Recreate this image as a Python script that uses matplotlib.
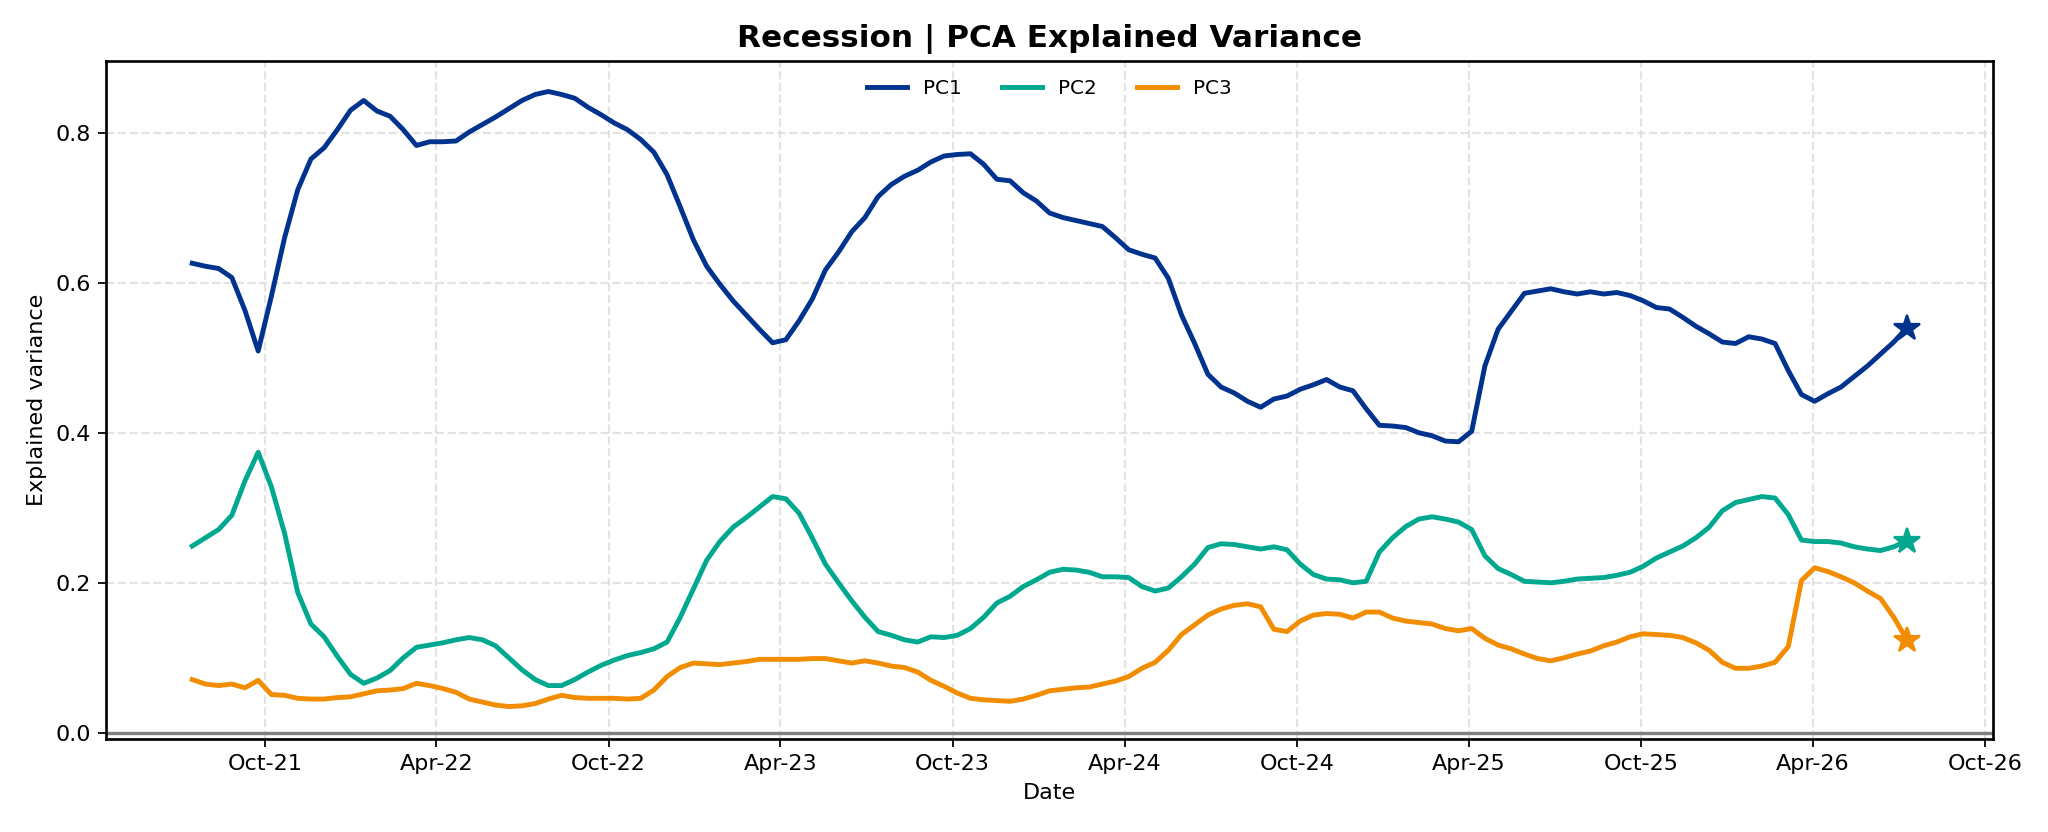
import numpy as np
import pandas as pd
import matplotlib
matplotlib.use("Agg")
import matplotlib.pyplot as plt
import matplotlib.dates as mdates

# biweekly observation dates
dates = pd.date_range("2021-07-16", periods=131, freq="14D")

pc1 = [0.626, 0.622, 0.619, 0.607, 0.563, 0.509, 0.582, 0.660, 0.724, 0.765,
       0.780, 0.804, 0.830, 0.843, 0.829, 0.822, 0.804, 0.783, 0.788, 0.788,
       0.789, 0.801, 0.811, 0.821, 0.832, 0.843, 0.851, 0.855, 0.851, 0.846,
       0.834, 0.824, 0.813, 0.804, 0.791, 0.774, 0.744, 0.701, 0.657, 0.622,
       0.598, 0.576, 0.557, 0.538, 0.520, 0.524, 0.549, 0.578, 0.617, 0.641,
       0.668, 0.687, 0.715, 0.731, 0.742, 0.750, 0.761, 0.769, 0.771, 0.772,
       0.758, 0.738, 0.736, 0.720, 0.709, 0.693, 0.687, 0.683, 0.679, 0.675,
       0.660, 0.644, 0.638, 0.633, 0.606, 0.557, 0.519, 0.478, 0.461, 0.453,
       0.442, 0.434, 0.445, 0.449, 0.458, 0.464, 0.471, 0.461, 0.456, 0.432,
       0.410, 0.409, 0.407, 0.400, 0.396, 0.389, 0.388, 0.402, 0.489, 0.538,
       0.562, 0.586, 0.589, 0.592, 0.588, 0.585, 0.588, 0.585, 0.587, 0.583,
       0.576, 0.567, 0.565, 0.554, 0.542, 0.532, 0.521, 0.519, 0.528, 0.525,
       0.519, 0.483, 0.451, 0.442, 0.452, 0.461, 0.475, 0.489, 0.505, 0.521,
       0.540]

pc2 = [0.249, 0.260, 0.271, 0.290, 0.336, 0.374, 0.328, 0.266, 0.187, 0.145,
       0.128, 0.102, 0.078, 0.066, 0.073, 0.083, 0.100, 0.114, 0.117, 0.120,
       0.124, 0.127, 0.124, 0.116, 0.100, 0.084, 0.071, 0.063, 0.063, 0.071,
       0.081, 0.090, 0.097, 0.103, 0.107, 0.112, 0.121, 0.154, 0.192, 0.230,
       0.255, 0.274, 0.287, 0.301, 0.315, 0.312, 0.293, 0.260, 0.225, 0.200,
       0.176, 0.154, 0.135, 0.130, 0.124, 0.121, 0.128, 0.127, 0.130, 0.139,
       0.154, 0.173, 0.182, 0.195, 0.204, 0.214, 0.218, 0.217, 0.214, 0.208,
       0.208, 0.207, 0.195, 0.189, 0.193, 0.208, 0.225, 0.247, 0.252, 0.251,
       0.248, 0.245, 0.248, 0.244, 0.225, 0.211, 0.205, 0.204, 0.200, 0.202,
       0.241, 0.260, 0.275, 0.285, 0.288, 0.285, 0.281, 0.271, 0.236, 0.219,
       0.211, 0.202, 0.201, 0.200, 0.202, 0.205, 0.206, 0.207, 0.210, 0.214,
       0.222, 0.233, 0.241, 0.249, 0.260, 0.274, 0.296, 0.307, 0.311, 0.315,
       0.313, 0.291, 0.257, 0.255, 0.255, 0.253, 0.248, 0.245, 0.243, 0.248,
       0.256]

pc3 = [0.071, 0.065, 0.063, 0.065, 0.060, 0.070, 0.051, 0.050, 0.046, 0.045,
       0.045, 0.047, 0.048, 0.052, 0.056, 0.057, 0.059, 0.066, 0.063, 0.059,
       0.054, 0.045, 0.041, 0.037, 0.035, 0.036, 0.039, 0.045, 0.050, 0.047,
       0.046, 0.046, 0.046, 0.045, 0.046, 0.057, 0.075, 0.087, 0.093, 0.092,
       0.091, 0.093, 0.095, 0.098, 0.098, 0.098, 0.098, 0.099, 0.099, 0.096,
       0.093, 0.096, 0.093, 0.089, 0.087, 0.081, 0.070, 0.062, 0.053, 0.046,
       0.044, 0.043, 0.042, 0.045, 0.050, 0.056, 0.058, 0.060, 0.061, 0.065,
       0.069, 0.075, 0.086, 0.094, 0.110, 0.131, 0.144, 0.157, 0.165, 0.170,
       0.172, 0.168, 0.138, 0.135, 0.149, 0.157, 0.159, 0.158, 0.153, 0.161,
       0.161, 0.153, 0.149, 0.147, 0.145, 0.139, 0.136, 0.139, 0.126, 0.117,
       0.112, 0.105, 0.099, 0.096, 0.100, 0.105, 0.109, 0.116, 0.121, 0.128,
       0.132, 0.131, 0.130, 0.127, 0.120, 0.110, 0.094, 0.086, 0.086, 0.089,
       0.094, 0.115, 0.203, 0.220, 0.215, 0.208, 0.200, 0.189, 0.179, 0.154,
       0.124]

series = {"PC1": pc1, "PC2": pc2, "PC3": pc3}
colors = {"PC1": "#00338D", "PC2": "#00A88F", "PC3": "#F28C00"}

fig, ax = plt.subplots(figsize=(12.8, 5.2), dpi=160)

for name, vals in series.items():
    ax.plot(dates, vals, color=colors[name], lw=2.2, label=name)
    ax.plot(dates[-1], vals[-1], marker="*", ms=12, color=colors[name])

ax.axhline(0, color="gray", lw=1.5)

ax.set_ylim(-0.008, 0.896)
ax.set_yticks([0.0, 0.2, 0.4, 0.6, 0.8])
ax.xaxis.set_major_locator(mdates.MonthLocator(bymonth=[4, 10]))
ax.xaxis.set_major_formatter(mdates.DateFormatter("%b-%y"))

ax.grid(True, linestyle="--", color="#dddddd", lw=1.0, alpha=0.8)
ax.set_axisbelow(True)

ax.set_title("Recession | PCA Explained Variance", fontsize=14, fontweight="bold")
ax.set_xlabel("Date")
ax.set_ylabel("Explained variance")
ax.legend(loc="upper center", ncol=3, frameon=False, fontsize=9)

for sp in ax.spines.values():
    sp.set_linewidth(1.2)

fig.subplots_adjust(left=0.052, right=0.973, top=0.927, bottom=0.112)
fig.savefig("out.png", dpi=160)
